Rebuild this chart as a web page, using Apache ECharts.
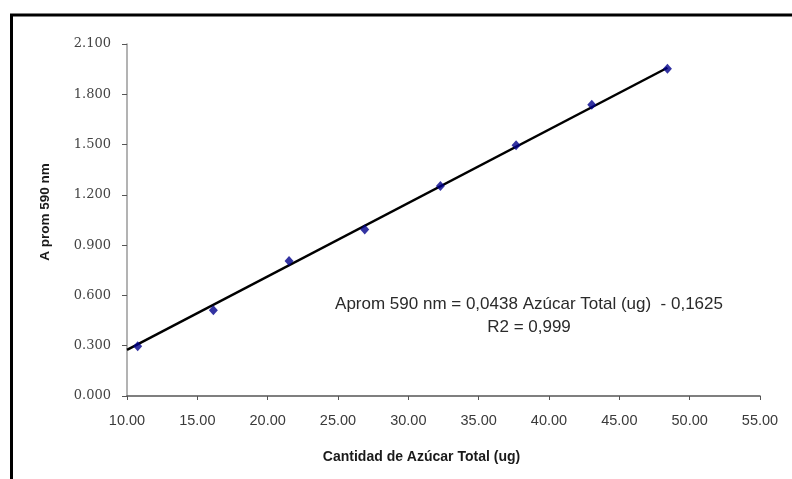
<!DOCTYPE html>
<html>
<head>
<meta charset="utf-8">
<script src="https://cdn.jsdelivr.net/npm/echarts@6/dist/echarts.min.js"></script>
<style>
  html, body { margin: 0; padding: 0; background: #fff; }
  #chart { width: 792px; height: 479px; }
</style>
</head>
<body>
<div id="chart"></div>
<script>
// Calibration points: total sugar (ug) vs mean absorbance at 590 nm
const sugarUg = [10.76, 16.14, 21.52, 26.90, 32.28, 37.66, 43.04, 48.42];
const absorbance = [0.297, 0.511, 0.805, 0.993, 1.253, 1.496, 1.738, 1.953];

// Linear fit coefficients (slope, intercept) and reported R²
const fitSlope = 0.0438;
const fitIntercept = -0.1625;
const fitLabel = 'Aprom 590 nm = 0,0438 Azúcar Total (ug)  - 0,1625';
const r2Label = 'R2 = 0,999';

// Axis titles
const xTitle = 'Cantidad de Azúcar Total (ug)';
const yTitle = 'A prom 590 nm';

// Axis ranges
const xMin = 10, xMax = 55, xStep = 5;
const yMin = 0, yMax = 2.1, yStep = 0.3;

const points = sugarUg.map((x, i) => [x, absorbance[i]]);
const fitStart = xMin;
const fitEnd = sugarUg[sugarUg.length - 1];
const fitLine = [fitStart, fitEnd].map(x => [x, fitSlope * x + fitIntercept]);

const chart = echarts.init(document.getElementById('chart'), null, { renderer: 'canvas' });

chart.setOption({
  animation: false,
  backgroundColor: '#ffffff',
  grid: { left: 127, right: 32, top: 44, bottom: 83 },
  xAxis: {
    type: 'value',
    min: xMin, max: xMax, interval: xStep,
    name: xTitle,
    nameLocation: 'middle',
    nameGap: 54,
    nameTextStyle: {
      fontFamily: 'Liberation Sans', fontWeight: 'bold', fontSize: 14,
      color: '#1a1a1a', padding: [0, 44, 0, 0]
    },
    splitLine: { show: false },
    axisLine: { lineStyle: { color: '#555555', width: 1.5 } },
    axisTick: { show: true, inside: false, length: 4, lineStyle: { color: '#555555' } },
    axisLabel: {
      margin: 17,
      fontFamily: 'Liberation Sans', fontSize: 14.5, color: '#3a3a3a',
      formatter: v => v.toFixed(2)
    }
  },
  yAxis: {
    type: 'value',
    min: yMin, max: yMax, interval: yStep,
    splitLine: { show: false },
    axisLine: { show: true, lineStyle: { color: '#9a9a9a', width: 1.5 } },
    axisTick: { show: true, inside: false, length: 5, lineStyle: { color: '#555555' } },
    axisLabel: {
      margin: 16,
      fontFamily: 'DejaVu Serif', fontSize: 13, color: '#444444',
      formatter: v => v.toFixed(3)
    }
  },
  series: [
    {
      type: 'line',
      data: fitLine,
      symbol: 'none',
      lineStyle: { color: '#000000', width: 2.5 },
      z: 2
    },
    {
      type: 'scatter',
      data: points,
      symbol: 'diamond',
      symbolSize: [9, 10],
      itemStyle: { color: '#00008b' },
      z: 3
    }
  ],
  graphic: [
    {
      type: 'rect',
      shape: { x: 11.5, y: 15, width: 800, height: 500 },
      style: { fill: 'none', stroke: '#000000', lineWidth: 3 },
      silent: true
    },
    {
      type: 'text',
      x: 45, y: 212,
      rotation: Math.PI / 2,
      style: {
        text: yTitle, align: 'center', verticalAlign: 'middle',
        fontFamily: 'Liberation Sans', fontWeight: 'bold', fontSize: 13.5, fill: '#1a1a1a'
      }
    },
    {
      type: 'text',
      x: 529, y: 304,
      style: {
        text: fitLabel, align: 'center', verticalAlign: 'middle',
        fontFamily: 'Liberation Sans', fontSize: 17, fill: '#2a2a2a'
      }
    },
    {
      type: 'text',
      x: 529, y: 327,
      style: {
        text: r2Label, align: 'center', verticalAlign: 'middle',
        fontFamily: 'Liberation Sans', fontSize: 17, fill: '#2a2a2a'
      }
    }
  ]
});
</script>
</body>
</html>
